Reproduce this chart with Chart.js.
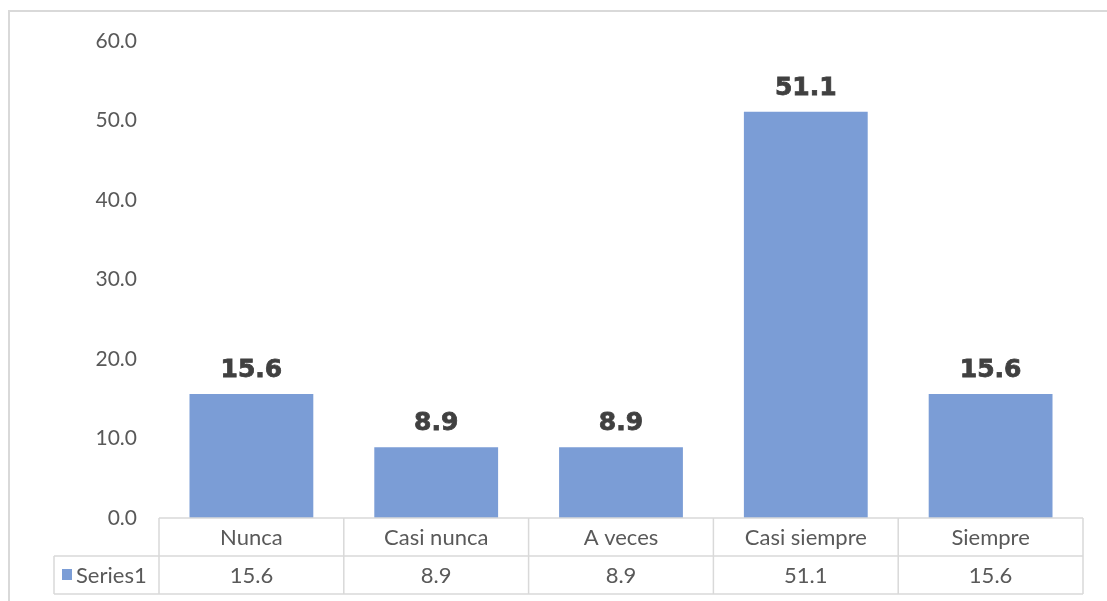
<!DOCTYPE html>
<html>
<head>
<meta charset="utf-8">
<script src="https://cdn.jsdelivr.net/npm/chart.js@4.4.1/dist/chart.umd.min.js"></script>
<style>
html,body{margin:0;padding:0;background:#fff;}
canvas{display:block;}
</style>
</head>
<body>
<canvas id="c" width="1107" height="601"></canvas>
<script>
const categories = ["Nunca", "Casi nunca", "A veces", "Casi siempre", "Siempre"];
const seriesName = "Series1";
const values = [15.6, 8.9, 8.9, 51.1, 15.6];
const yTicks = [0, 10, 20, 30, 40, 50, 60];

const textColor = "#595959";
const lineColor = "#d9d9d9";
const barColor = "#7b9dd6";
const baseFont = "Lato, 'Open Sans', sans-serif";

const framePlugin = {
  id: "frame",
  beforeDraw(chart) {
    const ctx = chart.ctx;
    ctx.save();
    ctx.fillStyle = "#fff";
    ctx.fillRect(0, 0, chart.width, chart.height);
    ctx.strokeStyle = lineColor;
    ctx.lineWidth = 2;
    ctx.beginPath();
    ctx.moveTo(9, chart.height + 5);
    ctx.lineTo(9, 11);
    ctx.lineTo(chart.width + 5, 11);
    ctx.stroke();
    ctx.restore();
  }
};

const tablePlugin = {
  id: "dataTable",
  afterDraw(chart) {
    const ctx = chart.ctx;
    const xs = chart.scales.x;
    const area = chart.chartArea;
    const n = categories.length;
    const cw = (area.right - area.left) / n;
    const rowH = 38;
    const top = area.bottom;
    const r2 = top + rowH;
    const bot = r2 + rowH;
    const legLeft = area.left - 105;
    ctx.save();
    ctx.strokeStyle = lineColor;
    ctx.lineWidth = 1.5;
    ctx.beginPath();
    ctx.moveTo(area.left, top); ctx.lineTo(area.right, top);
    ctx.moveTo(legLeft, r2); ctx.lineTo(area.right, r2);
    ctx.moveTo(legLeft, bot); ctx.lineTo(area.right, bot);
    ctx.moveTo(legLeft, r2); ctx.lineTo(legLeft, bot);
    for (let i = 0; i <= n; i++) {
      const x = area.left + i * cw;
      ctx.moveTo(x, top); ctx.lineTo(x, bot);
    }
    ctx.stroke();
    ctx.fillStyle = textColor;
    ctx.font = "22px " + baseFont;
    ctx.textAlign = "center";
    ctx.textBaseline = "middle";
    const ds = chart.data.datasets[0];
    for (let i = 0; i < n; i++) {
      const cx = xs.getPixelForValue(i);
      ctx.fillText(categories[i], cx, top + rowH / 2 + 1);
      ctx.fillText(ds.data[i].toFixed(1), cx, r2 + rowH / 2 + 1);
    }
    ctx.fillStyle = ds.backgroundColor;
    ctx.fillRect(legLeft + 8, r2 + 13, 10, 11);
    ctx.fillStyle = textColor;
    ctx.textAlign = "left";
    ctx.fillText(ds.label, legLeft + 22, r2 + rowH / 2 + 1);
    ctx.restore();
  }
};

const labelPlugin = {
  id: "barLabels",
  afterDatasetsDraw(chart) {
    const ctx = chart.ctx;
    const meta = chart.getDatasetMeta(0);
    ctx.save();
    ctx.fillStyle = "#404040";
    ctx.strokeStyle = "#404040";
    ctx.lineWidth = 0.8;
    ctx.font = "bold 25px 'DejaVu Sans', sans-serif";
    ctx.textAlign = "center";
    ctx.textBaseline = "alphabetic";
    meta.data.forEach((bar, i) => {
      const t = chart.data.datasets[0].data[i].toFixed(1);
      ctx.fillText(t, bar.x, bar.y - 17);
      ctx.strokeText(t, bar.x, bar.y - 17);
    });
    ctx.restore();
  }
};

new Chart(document.getElementById("c"), {
  type: "bar",
  data: {
    labels: categories,
    datasets: [{
      label: seriesName,
      data: values,
      backgroundColor: barColor,
      borderWidth: 0,
      categoryPercentage: 0.67,
      barPercentage: 1
    }]
  },
  options: {
    responsive: false,
    animation: false,
    devicePixelRatio: 1,
    layout: { padding: { left: 0, top: 41, right: 24, bottom: 83 } },
    plugins: { legend: { display: false }, tooltip: { enabled: false } },
    scales: {
      x: { display: false },
      y: {
        min: 0, max: 60,
        afterFit(scale) { scale.width = 159; },
        afterBuildTicks(scale) { scale.ticks = yTicks.map(v => ({ value: v })); },
        grid: { display: false, drawTicks: false },
        border: { display: false },
        ticks: {
          padding: 22,
          color: textColor,
          font: { family: baseFont, size: 21 },
          callback: v => Number(v).toFixed(1)
        }
      }
    }
  },
  plugins: [framePlugin, tablePlugin, labelPlugin]
});
</script>
</body>
</html>
